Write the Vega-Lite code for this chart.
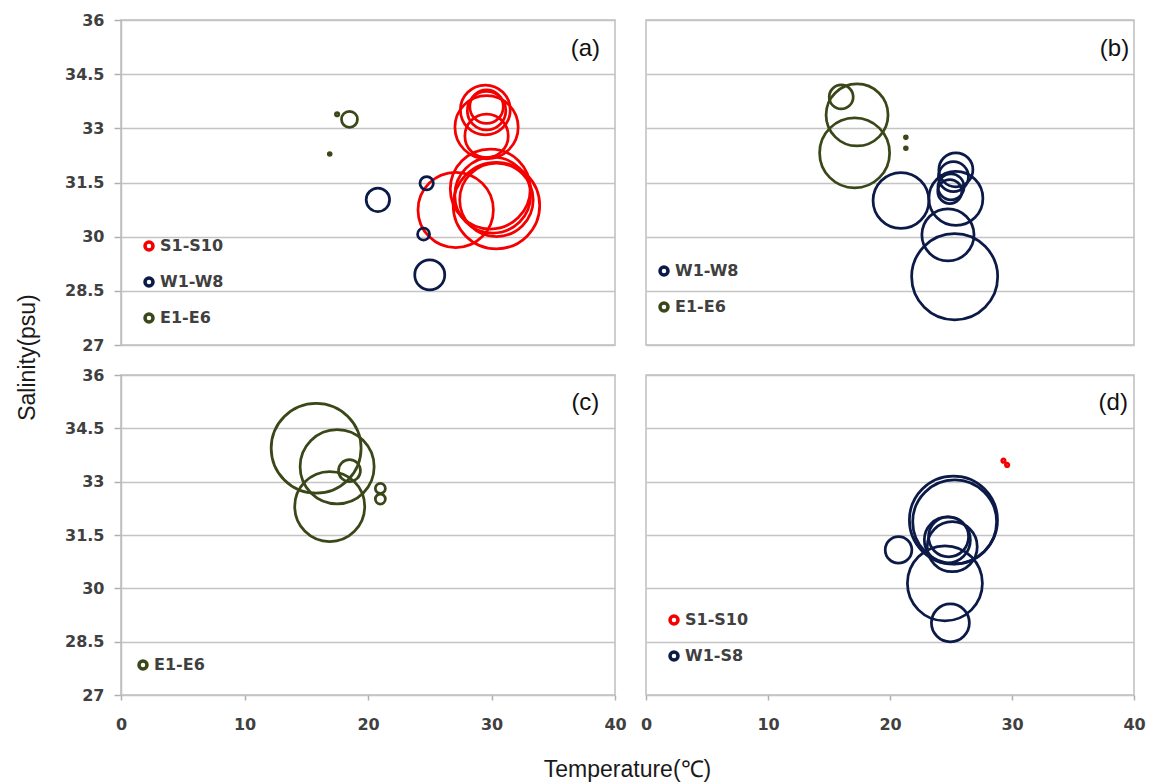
{
  "$schema": "https://vega.github.io/schema/vega-lite/v6.json",
  "padding": {"left": 15, "top": 11, "right": 5, "bottom": 0},
  "background": "white",
  "bounds": "flush",
  "columns": 2,
  "spacing": {"row": 30, "column": 31},
  "resolve": {"scale": {"color": "independent", "size": "independent"}, "legend": {"color": "independent", "size": "independent"}},
  "datasets": {
    "stations": [
      {"panel": "a", "group": "S1-S10", "temp": 29.5, "sal": 33.51, "n": 62},
      {"panel": "a", "group": "S1-S10", "temp": 29.6, "sal": 33.6, "n": 28},
      {"panel": "a", "group": "S1-S10", "temp": 29.6, "sal": 33.49, "n": 37},
      {"panel": "a", "group": "S1-S10", "temp": 29.6, "sal": 33.03, "n": 100},
      {"panel": "a", "group": "S1-S10", "temp": 29.6, "sal": 32.79, "n": 47},
      {"panel": "a", "group": "S1-S10", "temp": 29.9, "sal": 31.32, "n": 160},
      {"panel": "a", "group": "S1-S10", "temp": 30.4, "sal": 30.86, "n": 187},
      {"panel": "a", "group": "S1-S10", "temp": 27.1, "sal": 30.74, "n": 142},
      {"panel": "a", "group": "S1-S10", "temp": 30.4, "sal": 31.02, "n": 135},
      {"panel": "a", "group": "S1-S10", "temp": 30.1, "sal": 31.15, "n": 144},
      {"panel": "a", "group": "W1-W8", "temp": 24.75, "sal": 31.48, "n": 4.5},
      {"panel": "a", "group": "W1-W8", "temp": 20.8, "sal": 31.02, "n": 13.7},
      {"panel": "a", "group": "W1-W8", "temp": 24.5, "sal": 30.07, "n": 3.6},
      {"panel": "a", "group": "W1-W8", "temp": 25.0, "sal": 28.94, "n": 22.5},
      {"panel": "a", "group": "E1-E6", "temp": 17.5, "sal": 33.39, "n": 0.3},
      {"panel": "a", "group": "E1-E6", "temp": 18.5, "sal": 33.25, "n": 6.4},
      {"panel": "a", "group": "E1-E6", "temp": 16.9, "sal": 32.29, "n": 0.2},
      {"panel": "b", "group": "E1-E6", "temp": 16.0, "sal": 33.87, "n": 14.4},
      {"panel": "b", "group": "E1-E6", "temp": 17.3, "sal": 33.37, "n": 96},
      {"panel": "b", "group": "E1-E6", "temp": 17.1, "sal": 32.32, "n": 122.5},
      {"panel": "b", "group": "E1-E6", "temp": 21.3, "sal": 32.75, "n": 0.2},
      {"panel": "b", "group": "E1-E6", "temp": 21.3, "sal": 32.45, "n": 0.2},
      {"panel": "b", "group": "W1-W8", "temp": 20.9, "sal": 31.0, "n": 78},
      {"panel": "b", "group": "W1-W8", "temp": 25.4, "sal": 31.85, "n": 29},
      {"panel": "b", "group": "W1-W8", "temp": 25.2, "sal": 31.66, "n": 22.5},
      {"panel": "b", "group": "W1-W8", "temp": 25.0, "sal": 31.38, "n": 17},
      {"panel": "b", "group": "W1-W8", "temp": 24.9, "sal": 31.25, "n": 14.4},
      {"panel": "b", "group": "W1-W8", "temp": 25.4, "sal": 31.06, "n": 73},
      {"panel": "b", "group": "W1-W8", "temp": 24.75, "sal": 30.05, "n": 68},
      {"panel": "b", "group": "W1-W8", "temp": 25.3, "sal": 28.89, "n": 185},
      {"panel": "c", "group": "E1-E6", "temp": 15.8, "sal": 33.94, "n": 202},
      {"panel": "c", "group": "E1-E6", "temp": 17.5, "sal": 33.42, "n": 137},
      {"panel": "c", "group": "E1-E6", "temp": 16.9, "sal": 32.3, "n": 122.5},
      {"panel": "c", "group": "E1-E6", "temp": 18.5, "sal": 33.31, "n": 12},
      {"panel": "c", "group": "E1-E6", "temp": 21.0, "sal": 32.81, "n": 2.5},
      {"panel": "c", "group": "E1-E6", "temp": 21.0, "sal": 32.51, "n": 2.5},
      {"panel": "d", "group": "S1-S10", "temp": 29.3, "sal": 33.59, "n": 0.3},
      {"panel": "d", "group": "S1-S10", "temp": 29.6, "sal": 33.47, "n": 0.3},
      {"panel": "d", "group": "W1-S8", "temp": 25.2, "sal": 31.92, "n": 194},
      {"panel": "d", "group": "W1-S8", "temp": 25.3, "sal": 31.87, "n": 176},
      {"panel": "d", "group": "W1-S8", "temp": 24.7, "sal": 31.36, "n": 53},
      {"panel": "d", "group": "W1-S8", "temp": 24.8, "sal": 31.45, "n": 40},
      {"panel": "d", "group": "W1-S8", "temp": 25.1, "sal": 31.17, "n": 62.5},
      {"panel": "d", "group": "W1-S8", "temp": 20.7, "sal": 31.08, "n": 17.7},
      {"panel": "d", "group": "W1-S8", "temp": 24.5, "sal": 30.14, "n": 140.6},
      {"panel": "d", "group": "W1-S8", "temp": 24.95, "sal": 29.03, "n": 36}
    ],
    "one": [{"k": 1}]
  },
  "concat": [
    {
      "width": 494, "height": 325,
      "layer": [
        {
          "data": {"name": "stations"},
          "transform": [{"filter": "datum.panel === 'a'"}],
          "mark": {"type": "point", "shape": "circle", "filled": false, "strokeWidth": 2.75, "opacity": 1},
          "encoding": {
            "x": {"field": "temp", "type": "quantitative", "scale": {"domain": [0, 40], "nice": false}, "axis": null},
            "y": {"field": "sal", "type": "quantitative", "scale": {"domain": [27, 36], "nice": false, "zero": false},
                  "axis": {"values": [27, 28.5, 30, 31.5, 33, 34.5, 36], "labelExpr": "'' + datum.value", "title": "Salinity(psu)", "titleX": -82, "titleY": 337}},
            "color": {"field": "group", "type": "nominal",
                      "scale": {"domain": ["S1-S10", "W1-W8", "E1-E6"], "range": ["#f50000", "#0c1a48", "#3a4718"]},
                      "legend": {"legendX": 20, "legendY": 218}},
            "size": {"field": "n", "type": "quantitative", "scale": {"domain": [0, 200], "range": [0, 8000]}, "legend": null}
          }
        },
        {
          "data": {"name": "one"},
          "mark": {"type": "text", "font": "Liberation Sans", "fontSize": 24, "fontWeight": 400, "color": "#111111"},
          "encoding": {"x": {"datum": 37.6, "type": "quantitative"}, "y": {"datum": 35.2, "type": "quantitative"}, "text": {"value": "(a)"}}
        }
      ]
    },
    {
      "width": 488, "height": 325,
      "layer": [
        {
          "data": {"name": "stations"},
          "transform": [{"filter": "datum.panel === 'b'"}],
          "mark": {"type": "point", "shape": "circle", "filled": false, "strokeWidth": 2.75, "opacity": 1},
          "encoding": {
            "x": {"field": "temp", "type": "quantitative", "scale": {"domain": [0, 40], "nice": false}, "axis": null},
            "y": {"field": "sal", "type": "quantitative", "scale": {"domain": [27, 36], "nice": false, "zero": false},
                  "axis": {"values": [27, 28.5, 30, 31.5, 33, 34.5, 36], "labels": false, "ticks": false, "domain": false, "title": null}},
            "color": {"field": "group", "type": "nominal",
                      "scale": {"domain": ["W1-W8", "E1-E6"], "range": ["#0c1a48", "#3a4718"]},
                      "legend": {"legendX": 10, "legendY": 243}},
            "size": {"field": "n", "type": "quantitative", "scale": {"domain": [0, 200], "range": [0, 8000]}, "legend": null}
          }
        },
        {
          "data": {"name": "one"},
          "mark": {"type": "text", "font": "Liberation Sans", "fontSize": 24, "fontWeight": 400, "color": "#111111"},
          "encoding": {"x": {"datum": 38.4, "type": "quantitative"}, "y": {"datum": 35.2, "type": "quantitative"}, "text": {"value": "(b)"}}
        }
      ]
    },
    {
      "width": 494, "height": 320,
      "layer": [
        {
          "data": {"name": "stations"},
          "transform": [{"filter": "datum.panel === 'c'"}],
          "mark": {"type": "point", "shape": "circle", "filled": false, "strokeWidth": 2.75, "opacity": 1},
          "encoding": {
            "x": {"field": "temp", "type": "quantitative", "scale": {"domain": [0, 40], "nice": false},
                  "axis": {"values": [0, 10, 20, 30, 40], "grid": false, "domain": false, "labelFlush": false, "title": "Temperature(℃)", "titleX": 506, "titleY": 74, "titleBaseline": "middle"}},
            "y": {"field": "sal", "type": "quantitative", "scale": {"domain": [27, 36], "nice": false, "zero": false},
                  "axis": {"values": [27, 28.5, 30, 31.5, 33, 34.5, 36], "labelExpr": "'' + datum.value", "title": null}},
            "color": {"field": "group", "type": "nominal",
                      "scale": {"domain": ["E1-E6"], "range": ["#3a4718"]},
                      "legend": {"legendX": 14, "legendY": 282}},
            "size": {"field": "n", "type": "quantitative", "scale": {"domain": [0, 200], "range": [0, 8000]}, "legend": null}
          }
        },
        {
          "data": {"name": "one"},
          "mark": {"type": "text", "font": "Liberation Sans", "fontSize": 24, "fontWeight": 400, "color": "#111111"},
          "encoding": {"x": {"datum": 37.6, "type": "quantitative"}, "y": {"datum": 35.2, "type": "quantitative"}, "text": {"value": "(c)"}}
        }
      ]
    },
    {
      "width": 488, "height": 320,
      "layer": [
        {
          "data": {"name": "stations"},
          "transform": [{"filter": "datum.panel === 'd'"}],
          "mark": {"type": "point", "shape": "circle", "filled": false, "strokeWidth": 2.75, "opacity": 1},
          "encoding": {
            "x": {"field": "temp", "type": "quantitative", "scale": {"domain": [0, 40], "nice": false},
                  "axis": {"values": [0, 10, 20, 30, 40], "grid": false, "domain": false, "labelFlush": false, "title": null}},
            "y": {"field": "sal", "type": "quantitative", "scale": {"domain": [27, 36], "nice": false, "zero": false},
                  "axis": {"values": [27, 28.5, 30, 31.5, 33, 34.5, 36], "labels": false, "ticks": false, "domain": false, "title": null}},
            "color": {"field": "group", "type": "nominal",
                      "scale": {"domain": ["S1-S10", "W1-S8"], "range": ["#f50000", "#0c1a48"]},
                      "legend": {"legendX": 20, "legendY": 237}},
            "size": {"field": "n", "type": "quantitative", "scale": {"domain": [0, 200], "range": [0, 8000]}, "legend": null}
          }
        },
        {
          "data": {"name": "one"},
          "mark": {"type": "text", "font": "Liberation Sans", "fontSize": 24, "fontWeight": 400, "color": "#111111"},
          "encoding": {"x": {"datum": 38.3, "type": "quantitative"}, "y": {"datum": 35.2, "type": "quantitative"}, "text": {"value": "(d)"}}
        }
      ]
    }
  ],
  "config": {
    "view": {"stroke": "#bfbfbf", "strokeWidth": 1.5},
    "axis": {
      "grid": true, "gridColor": "#c4c4c4", "gridWidth": 1.5,
      "domainColor": "#bfbfbf", "domainWidth": 1.5,
      "tickColor": "#b0b0b0", "tickWidth": 1.5, "tickSize": 7,
      "labelFont": "DejaVu Sans", "labelFontSize": 16, "labelFontWeight": "bold", "labelColor": "#404040", "labelPadding": 10,
      "titleFont": "Liberation Sans", "titleFontSize": 23, "titleFontWeight": "normal", "titleColor": "#1a1a1a"
    },
    "axisX": {"tickSize": 5, "labelPadding": 16},
    "legend": {
      "orient": "none", "title": null, "symbolType": "circle", "symbolSize": 64, "symbolStrokeWidth": 3.5,
      "labelFont": "DejaVu Sans", "labelFontSize": 16, "labelFontWeight": "bold", "labelColor": "#404040",
      "rowPadding": 14, "labelOffset": 3
    }
  }
}
